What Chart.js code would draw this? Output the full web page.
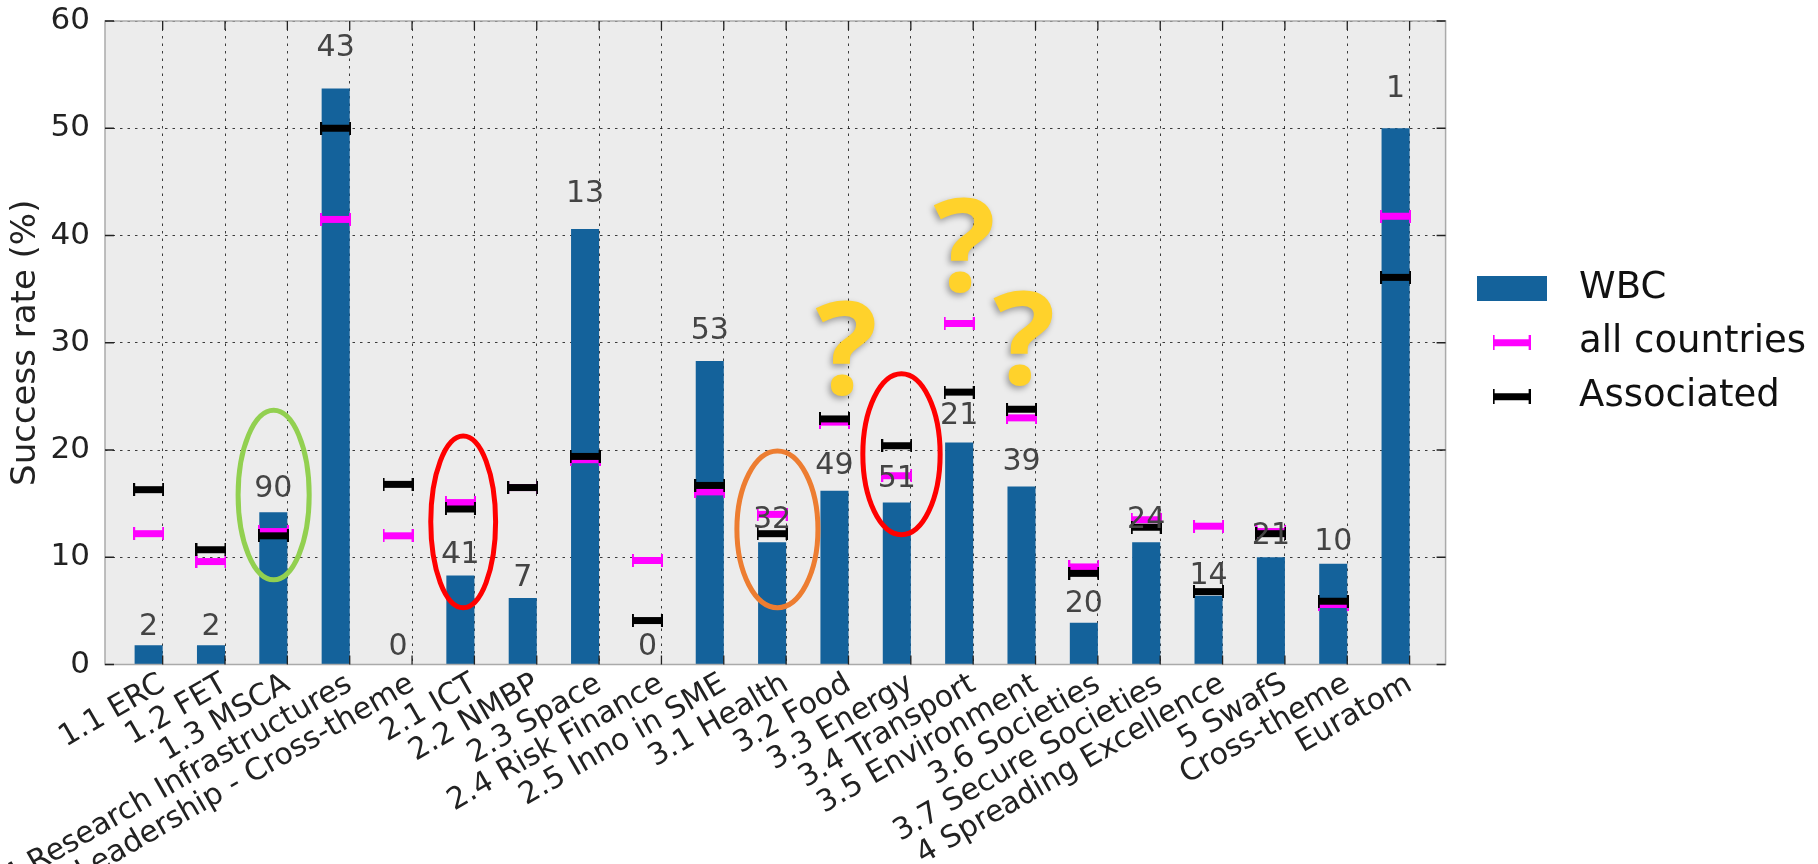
<!DOCTYPE html>
<html>
<head>
<meta charset="utf-8">
<script src="https://cdn.jsdelivr.net/npm/chart.js@4"></script>
<style>
  html, body { margin: 0; padding: 0; background: #ffffff; }
  #wrap { position: relative; width: 1818px; height: 864px; }
  canvas { display: block; }
</style>
</head>
<body>
<div id="wrap"><canvas id="chart" width="1818" height="864" style="width:1818px;height:864px"></canvas></div>
<script>
// ---------------- data ----------------
const categories = [
  '1.1 ERC', '1.2 FET', '1.3 MSCA', '1.4 Research Infrastructures',
  '2 Industrial Leadership - Cross-theme', '2.1 ICT', '2.2 NMBP', '2.3 Space',
  '2.4 Risk Finance', '2.5 Inno in SME', '3.1 Health', '3.2 Food', '3.3 Energy',
  '3.4 Transport', '3.5 Environment', '3.6 Societies', '3.7 Secure Societies',
  '4 Spreading Excellence', '5 SwafS', 'Cross-theme', 'Euratom'
];
const wbcRate          = [1.8, 1.8, 14.2, 53.7, 0, 8.3, 6.2, 40.6, 0, 28.3, 11.4, 16.2, 15.1, 20.7, 16.6, 3.9, 11.4, 6.4, 10.0, 9.4, 50.0];
const allCountriesRate = [12.2, 9.6, 12.4, 41.5, 12.0, 15.1, 16.5, 19.1, 9.7, 16.1, 14.0, 22.6, 17.6, 31.8, 23.0, 9.1, 13.5, 12.9, 12.4, 5.6, 41.8];
const associatedRate   = [16.3, 10.7, 12.0, 50.0, 16.8, 14.5, 16.5, 19.4, 4.1, 16.7, 12.2, 22.9, 20.4, 25.4, 23.8, 8.5, 12.8, 6.8, 12.2, 5.9, 36.1];
const wbcCounts        = [2, 2, 90, 43, 0, 41, 7, 13, 0, 53, 32, 49, 51, 21, 39, 20, 24, 14, 21, 10, 1];
const yTickValues      = [0, 10, 20, 30, 40, 50, 60];
const seriesNames      = ['WBC', 'all countries', 'Associated'];

// hand-drawn highlights on the original picture (axis units)
const highlightRings = [
  { x: 1.78,  y: 15.8, rx: 0.57, ry: 7.9, color: '#92d050' },
  { x: 4.82,  y: 13.3, rx: 0.52, ry: 8.0, color: '#ff0000' },
  { x: 9.86,  y: 12.6, rx: 0.65, ry: 7.3, color: '#ed7d31' },
  { x: 11.85, y: 19.6, rx: 0.62, ry: 7.5, color: '#ff0000' }
];
const questionMarks = [
  { x: 10.97, y: 25.2 },
  { x: 12.86, y: 34.8 },
  { x: 13.82, y: 26.2 }
];

// ---------------- styles ----------------
const FONT = "'DejaVu Sans', sans-serif";
const BAR_COLOR = '#14629b';
const PINK = '#ff00ff';
const BLACK = '#000000';
const X_MIN = -0.925, X_MAX = 20.577;   // axis range around the category ticks
const BAR_SHIFT = 0.225;                // bars sit just left of their tick

function markerImage(color, w, h, thick) {
  const c = document.createElement('canvas');
  c.width = w; c.height = h;
  const g = c.getContext('2d');
  g.fillStyle = color;
  g.fillRect(0, Math.round((h - thick) / 2), w, thick);
  g.fillRect(0, 0, 2, h);
  g.fillRect(w - 2, 0, 2, h);
  return c;
}
function rectImage(color, w, h) {
  const c = document.createElement('canvas');
  c.width = w; c.height = h;
  const g = c.getContext('2d');
  g.fillStyle = color;
  g.fillRect(0, 0, w, h);
  return c;
}
const pinkMarker  = markerImage(PINK, 31, 13, 7);
const blackMarker = markerImage(BLACK, 31, 13, 7);
const legendImgs = [rectImage(BAR_COLOR, 70, 25), markerImage(PINK, 38, 15, 7), markerImage(BLACK, 38, 15, 7)];

const integerTicks = (scale) => { scale.ticks = categories.map((_, i) => ({ value: i })); };
const noPadding = (s) => { s.paddingLeft = 0; s.paddingRight = 0; s.paddingTop = 0; s.paddingBottom = 0; };

// ---------------- plugin: plot background, frame, inner ticks, counts, highlights ----------------
const decorations = {
  id: 'decorations',
  beforeDraw(chart) {
    const { ctx, chartArea: a } = chart;
    ctx.save();
    ctx.fillStyle = '#ececec';
    ctx.fillRect(a.left, a.top, a.width, a.height);
    ctx.restore();
  },
  afterDatasetsDraw(chart) {
    const { ctx, chartArea: a, scales } = chart;
    const xs = scales.x, ys = scales.y;
    ctx.save();
    // frame
    ctx.strokeStyle = '#aaaaaa';
    ctx.lineWidth = 1.5;
    ctx.strokeRect(a.left, a.top, a.width, a.height);
    // inner tick marks on all four sides
    ctx.strokeStyle = '#222';
    ctx.lineWidth = 1.3;
    ctx.beginPath();
    xs.ticks.forEach((t, i) => {
      const px = xs.getPixelForTick(i);
      ctx.moveTo(px, a.top); ctx.lineTo(px, a.top + 9);
      ctx.moveTo(px, a.bottom); ctx.lineTo(px, a.bottom - 9);
    });
    ys.ticks.forEach((t, i) => {
      const py = ys.getPixelForTick(i);
      ctx.moveTo(a.left, py); ctx.lineTo(a.left + 9, py);
      ctx.moveTo(a.right, py); ctx.lineTo(a.right - 9, py);
    });
    ctx.stroke();
    // counts above bars
    const barMeta = chart.getDatasetMeta(0);
    ctx.fillStyle = '#444';
    ctx.font = '30px ' + FONT;
    ctx.textAlign = 'center';
    ctx.textBaseline = 'bottom';
    wbcCounts.forEach((n, i) => {
      const el = barMeta.data[i];
      ctx.fillText(String(n), el.x, ys.getPixelForValue(wbcRate[i] * 1.04 + 0.2));
    });
    // highlight rings
    ctx.lineWidth = 5;
    highlightRings.forEach(r => {
      const cx = xs.getPixelForValue(r.x), cy = ys.getPixelForValue(r.y);
      const rx = Math.abs(xs.getPixelForValue(r.x + r.rx) - cx);
      const ry = Math.abs(ys.getPixelForValue(r.y + r.ry) - cy);
      ctx.strokeStyle = r.color;
      ctx.beginPath();
      ctx.ellipse(cx, cy, rx, ry, 0, 0, Math.PI * 2);
      ctx.stroke();
    });
    // question marks
    ctx.font = "bold 130px 'Open Sans', 'Liberation Sans', sans-serif";
    ctx.textAlign = 'center';
    ctx.textBaseline = 'alphabetic';
    ctx.fillStyle = '#ffd22b';
    ctx.shadowColor = 'rgba(0,0,0,0.35)';
    ctx.shadowBlur = 6;
    ctx.shadowOffsetX = -2;
    ctx.shadowOffsetY = 3;
    questionMarks.forEach(q => {
      ctx.fillText('?', xs.getPixelForValue(q.x), ys.getPixelForValue(q.y));
    });
    ctx.restore();
  }
};

const pointsOf = (arr) => arr.map((v, i) => ({ x: i, y: v }));

new Chart(document.getElementById('chart'), {
  type: 'bar',
  data: {
    datasets: [
      { label: seriesNames[0], type: 'bar', data: pointsOf(wbcRate), xAxisID: 'xb', yAxisID: 'y',
        backgroundColor: BAR_COLOR, borderWidth: 0, categoryPercentage: 0.45, barPercentage: 1.0, order: 3 },
      { label: seriesNames[1], type: 'scatter', data: pointsOf(allCountriesRate), xAxisID: 'xb', yAxisID: 'y',
        pointStyle: pinkMarker, order: 2 },
      { label: seriesNames[2], type: 'scatter', data: pointsOf(associatedRate), xAxisID: 'xb', yAxisID: 'y',
        pointStyle: blackMarker, order: 1 }
    ]
  },
  options: {
    responsive: false,
    animation: false,
    layout: { padding: { top: 21, right: 2, bottom: 0, left: 0 } },
    scales: {
      x: {
        type: 'linear', axis: 'x', position: 'bottom', offset: false,
        min: X_MIN, max: X_MAX, bounds: 'data',
        afterBuildTicks: integerTicks,
        afterFit: (s) => { s.height = 199.5; noPadding(s); },
        ticks: {
          autoSkip: false, minRotation: 30, maxRotation: 30,
          callback: (v) => categories[v] ?? '',
          font: { family: FONT, size: 30 }, color: '#222', padding: 2
        },
        grid: { color: 'rgba(0,0,0,0.75)', lineWidth: 1, drawTicks: false, offset: false },
        border: { display: false, dash: [2.5, 5] }
      },
      xb: {
        type: 'linear', axis: 'x', position: 'bottom', display: false, offset: false,
        min: X_MIN + BAR_SHIFT, max: X_MAX + BAR_SHIFT, bounds: 'data',
        afterBuildTicks: integerTicks,
        afterFit: noPadding,
        grid: { display: false, offset: false }
      },
      y: {
        type: 'linear', position: 'left', min: 0, max: 60,
        afterBuildTicks: (s) => { s.ticks = yTickValues.map(v => ({ value: v })); },
        afterFit: (s) => { s.width = 105; noPadding(s); },
        ticks: { font: { family: FONT, size: 31 }, color: '#222', padding: 15 },
        grid: { color: 'rgba(0,0,0,0.75)', lineWidth: 1, drawTicks: false },
        border: { display: false, dash: [2.5, 5] },
        title: { display: true, text: 'Success rate (%)', font: { family: FONT, size: 34 }, color: '#222',
                 padding: { top: 6, bottom: 0 } }
      }
    },
    plugins: {
      tooltip: { enabled: false },
      legend: {
        position: 'right', fullSize: false, align: 'center',
        labels: {
          usePointStyle: true, pointStyleWidth: 98, boxHeight: 37, padding: 17,
          font: { family: FONT, size: 37 }, color: '#111',
          generateLabels: () => seriesNames.map((name, i) => ({
            text: name, pointStyle: legendImgs[i], fillStyle: 'transparent',
            strokeStyle: 'transparent', lineWidth: 0, hidden: false, datasetIndex: i, fontColor: '#111'
          }))
        }
      }
    }
  },
  plugins: [decorations]
});
</script>
</body>
</html>
